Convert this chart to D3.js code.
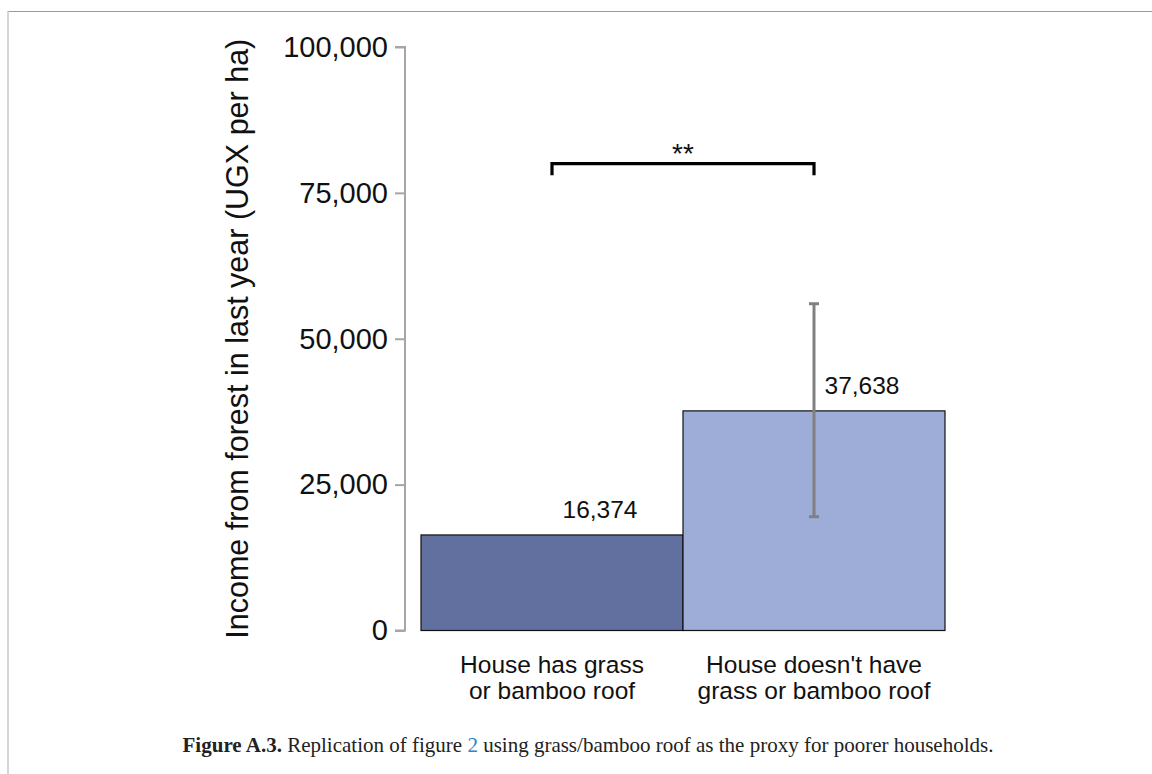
<!DOCTYPE html>
<html>
<head>
<meta charset="utf-8">
<script src="https://cdn.jsdelivr.net/npm/d3@7"></script>
<style>
  html, body { margin: 0; padding: 0; background: #fff; }
  svg { display: block; }
</style>
</head>
<body>
<svg id="chart" width="1152" height="774"></svg>
<script>
// Income from forest by roof type
const categories = ["House has grass\nor bamboo roof", "House doesn't have\ngrass or bamboo roof"];
const means = [16374, 37638];
const errLow = [null, 19500];
const errHigh = [null, 56000];
const barColors = ["#61709e", "#9eacd8"];
const yTicks = [0, 25000, 50000, 75000, 100000];
const bracketValue = 80000;
const bracketDrop = 2000;
const bracketLabel = "**";

const svg = d3.select("#chart");
const sans = "Liberation Sans, Arial, sans-serif";

// Page frame
svg.append("line").attr("x1", 8).attr("x2", 1152).attr("y1", 11.5).attr("y2", 11.5)
  .attr("stroke", "#9a9a9a").attr("stroke-width", 1.2);
svg.append("line").attr("x1", 8).attr("x2", 8).attr("y1", 11).attr("y2", 774)
  .attr("stroke", "#c8c8c8").attr("stroke-width", 1.5);

const plot = { left: 421, right: 945, top: 47, bottom: 630.5 };

const x = d3.scaleBand().domain(categories).range([plot.left, plot.right]).padding(0);
const y = d3.scaleLinear().domain([0, 100000]).range([plot.bottom, plot.top]);

// Y axis
const yAxis = d3.axisLeft(y).tickValues(yTicks).tickFormat(d3.format(",")).tickSize(10).tickPadding(7);
const ya = svg.append("g").attr("transform", "translate(405,0)").call(yAxis);
ya.select(".domain").attr("stroke", "#a6a6a6").attr("stroke-width", 2)
  .attr("d", `M-10,${y(100000)}H0V${y(0)}H-10`);
ya.selectAll(".tick line").attr("stroke", "#a6a6a6").attr("stroke-width", 2);
ya.selectAll(".tick text").attr("font-family", sans)
  .attr("font-size", 29).attr("fill", "#111");

// Y axis title
svg.append("text")
  .attr("transform", `translate(248,${(plot.top + plot.bottom) / 2}) rotate(-90)`)
  .attr("text-anchor", "middle")
  .attr("font-family", sans)
  .attr("font-size", 30.5).attr("fill", "#111")
  .text("Income from forest in last year (UGX per ha)");

// Bars
svg.selectAll("rect.bar").data(categories).join("rect")
  .attr("class", "bar")
  .attr("x", d => x(d))
  .attr("y", (d, i) => y(means[i]))
  .attr("width", x.bandwidth())
  .attr("height", (d, i) => y(0) - y(means[i]))
  .attr("fill", (d, i) => barColors[i])
  .attr("stroke", "#111").attr("stroke-width", 1.2);

// Error bars
categories.forEach((c, i) => {
  if (errLow[i] == null) return;
  const cx = x(c) + x.bandwidth() / 2;
  const g = svg.append("g").attr("stroke", "#808080").attr("stroke-width", 3);
  g.append("line").attr("x1", cx).attr("x2", cx).attr("y1", y(errLow[i])).attr("y2", y(errHigh[i]));
  g.append("line").attr("x1", cx - 5).attr("x2", cx + 5).attr("y1", y(errLow[i])).attr("y2", y(errLow[i]));
  g.append("line").attr("x1", cx - 5).attr("x2", cx + 5).attr("y1", y(errHigh[i])).attr("y2", y(errHigh[i]));
});

// Value labels, set to the right of each bar's centre
categories.forEach((c, i) => {
  const cx = x(c) + x.bandwidth() / 2;
  svg.append("text")
    .attr("x", cx + 48).attr("y", y(means[i]) - 17)
    .attr("text-anchor", "middle")
    .attr("font-family", sans)
    .attr("font-size", 24.5).attr("fill", "#111")
    .text(d3.format(",")(means[i]));
});

// Category labels, one text per line
categories.forEach(c => {
  const cx = x(c) + x.bandwidth() / 2;
  c.split("\n").forEach((line, k) => {
    svg.append("text")
      .attr("x", cx).attr("y", 673 + k * 25.5)
      .attr("text-anchor", "middle")
      .attr("font-family", sans)
      .attr("font-size", 24.5).attr("fill", "#111")
      .text(line);
  });
});

// Significance bracket
const bx1 = x(categories[0]) + x.bandwidth() / 2;
const bx2 = x(categories[1]) + x.bandwidth() / 2;
svg.append("path")
  .attr("d", `M${bx1},${y(bracketValue - bracketDrop)}V${y(bracketValue)}H${bx2}V${y(bracketValue - bracketDrop)}`)
  .attr("fill", "none").attr("stroke", "#000").attr("stroke-width", 3.2);
svg.append("text")
  .attr("x", (bx1 + bx2) / 2).attr("y", y(bracketValue) - 1)
  .attr("text-anchor", "middle")
  .attr("font-family", sans)
  .attr("font-size", 28).attr("fill", "#111")
  .text(bracketLabel);

// Caption
const cap = svg.append("text")
  .attr("x", 588).attr("y", 752)
  .attr("text-anchor", "middle")
  .attr("font-family", "Liberation Serif, Times New Roman, serif")
  .attr("font-size", 21).attr("fill", "#222");
cap.append("tspan").attr("font-weight", "bold").text("Figure A.3.");
cap.append("tspan").text(" Replication of figure ");
cap.append("tspan").attr("fill", "#2a86c8").text("2");
cap.append("tspan").text(" using grass/bamboo roof as the proxy for poorer households.");
</script>
</body>
</html>
